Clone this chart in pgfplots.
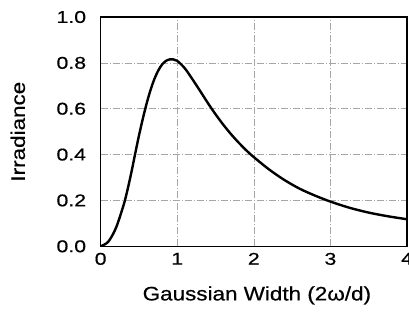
\documentclass[border=0pt]{standalone}
\usepackage{fontspec}
\setmainfont{Liberation Sans}
\newfontfamily\labelfont{Liberation Sans}[FakeStretch=1.15,FakeBold=0.5]
\newfontfamily\tickfont{Liberation Sans}[FakeStretch=1.25,FakeBold=0.5]
\usepackage{pgfplots}
\pgfplotsset{compat=1.18}
\begin{document}
\begin{tikzpicture}
\begin{axis}[
  name=ax,
  scale only axis,
  width=306pt, height=229pt,
  xmin=0, xmax=4, ymin=0, ymax=1,
  xtick={0,1,2,3,4},
  ytick={0,0.2,0.4,0.6,0.8,1.0},
  yticklabel style={/pgf/number format/fixed, /pgf/number format/fixed zerofill, /pgf/number format/precision=1, xshift=-11pt},
  /pgf/number format/assume math mode=true,
  tick label style={font=\tickfont\fontsize{17}{20}\selectfont},
  xticklabel style={yshift=-3pt},
  major tick length=0pt,
  axis line style={black, line width=1.3pt},
  grid=major,
  major grid style={gray!70, line width=0.5pt, dash pattern=on 7pt off 2pt on 1pt off 2pt},
  xlabel={Gaussian Width (2ω/d)},
  ylabel={Irradiance},
  label style={font=\labelfont\fontsize{19.5}{22}\selectfont},
  xlabel style={at={(axis description cs:0.51,-0.214)}, anchor=center},
  ylabel style={at={(axis description cs:-0.27,0.5)}, anchor=center},
]
\addplot[black, line width=2.4pt, smooth] coordinates {
(0,0) (0.1,0.02) (0.2,0.08) (0.3,0.18) (0.35,0.245) (0.4,0.32) (0.45,0.402)
(0.5,0.482) (0.55,0.555) (0.6,0.622) (0.65,0.68) (0.7,0.728) (0.75,0.765)
(0.8,0.792) (0.85,0.808) (0.9,0.815) (0.95,0.815) (1.0,0.809)
(1.1,0.776) (1.2,0.728) (1.3,0.677) (1.4,0.625) (1.5,0.576) (1.6,0.531)
(1.7,0.490) (1.8,0.453) (1.9,0.419) (2.0,0.389) (2.2,0.335) (2.4,0.289)
(2.6,0.251) (2.8,0.221) (3.0,0.195) (3.25,0.168) (3.5,0.147) (3.75,0.131) (4.0,0.118)
};
\end{axis}
\pgfresetboundingbox
\path[use as bounding box] ([xshift=-100.5pt,yshift=-67pt]ax.south west) rectangle ([xshift=2pt,yshift=17pt]ax.north east);
\end{tikzpicture}
\end{document}
